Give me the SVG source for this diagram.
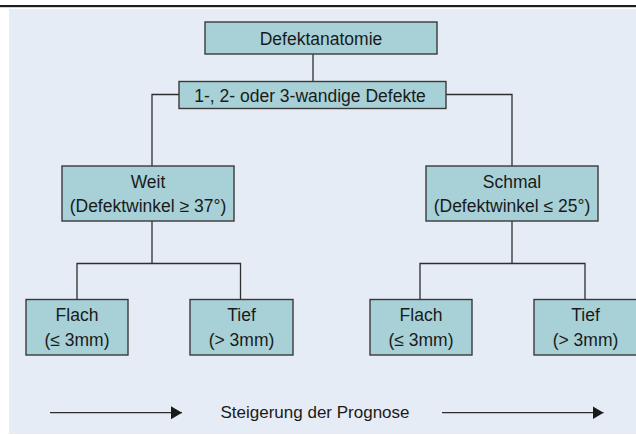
<svg xmlns="http://www.w3.org/2000/svg" width="636" height="435" viewBox="0 0 636 435">
  <defs>
    <style>
      .box { fill: #a7d1d7; stroke: #3a3a3a; stroke-width: 1.4; }
      .line { fill: none; stroke: #2e2e2e; stroke-width: 1.3; }
      .txt { font-family: "Liberation Sans", Arial, sans-serif; font-size: 17.5px; fill: #1a1a1a; text-anchor: middle; }
    </style>
    <marker id="arrow" markerUnits="userSpaceOnUse" markerWidth="12" markerHeight="14" refX="11" refY="6.5" orient="auto">
      <path d="M0,0 L11,6.5 L0,13 z" fill="#1a1a1a"/>
    </marker>
  </defs>

  <rect x="0" y="0" width="636" height="435" fill="#ffffff"/>
  <rect x="0" y="5" width="636" height="2.2" fill="#1e1e1e"/>
  <rect x="9" y="9" width="627" height="425" fill="#e6ecf6"/>

  <g id="connectors">
    <line class="line" x1="313" y1="54" x2="313" y2="81.5"/>
    <polyline class="line" points="179,94.5 152,94.5 152,166"/>
    <polyline class="line" points="446,94.5 512,94.5 512,166"/>
    <line class="line" x1="152" y1="221" x2="152" y2="263.5"/>
    <polyline class="line" points="77,299.5 77,263.5 240.5,263.5 240.5,299.5"/>
    <line class="line" x1="512" y1="221" x2="512" y2="263.5"/>
    <polyline class="line" points="420,299.5 420,263.5 585,263.5 585,299.5"/>
    <line class="line" x1="50" y1="412.7" x2="182" y2="412.7" marker-end="url(#arrow)"/>
    <line class="line" x1="442" y1="412.7" x2="603.5" y2="412.7" marker-end="url(#arrow)"/>
  </g>

  <g id="node-defektanatomie">
    <rect class="box" x="205" y="22" width="232" height="32"/>
    <text class="txt" x="321" y="45">Defektanatomie</text>
  </g>

  <g id="node-wandige">
    <rect class="box" x="179" y="81.5" width="267" height="27"/>
    <text class="txt" x="310" y="101.5">1-, 2- oder 3-wandige Defekte</text>
  </g>

  <g id="node-weit">
    <rect class="box" x="62" y="166" width="172" height="55"/>
    <text class="txt" x="148" y="187.5">Weit</text>
    <text class="txt" x="148" y="211.5">(Defektwinkel ≥ 37°)</text>
  </g>

  <g id="node-schmal">
    <rect class="box" x="426" y="166" width="172" height="55"/>
    <text class="txt" x="512" y="187.5">Schmal</text>
    <text class="txt" x="512" y="211.5">(Defektwinkel ≤ 25°)</text>
  </g>

  <g id="node-flach-weit">
    <rect class="box" x="26" y="299.5" width="102" height="55.5"/>
    <text class="txt" x="77" y="321">Flach</text>
    <text class="txt" x="77" y="345.5">(≤ 3mm)</text>
  </g>

  <g id="node-tief-weit">
    <rect class="box" x="190" y="299.5" width="103" height="55.5"/>
    <text class="txt" x="241.5" y="321">Tief</text>
    <text class="txt" x="241.5" y="345.5">(&gt; 3mm)</text>
  </g>

  <g id="node-flach-schmal">
    <rect class="box" x="370" y="299.5" width="102" height="55.5"/>
    <text class="txt" x="421" y="321">Flach</text>
    <text class="txt" x="421" y="345.5">(≤ 3mm)</text>
  </g>

  <g id="node-tief-schmal">
    <rect class="box" x="534" y="299.5" width="103" height="55.5"/>
    <text class="txt" x="585.5" y="321">Tief</text>
    <text class="txt" x="585.5" y="345.5">(&gt; 3mm)</text>
  </g>

  <text class="txt" x="315" y="418" font-size="17" style="font-size:17px">Steigerung der Prognose</text>
</svg>
